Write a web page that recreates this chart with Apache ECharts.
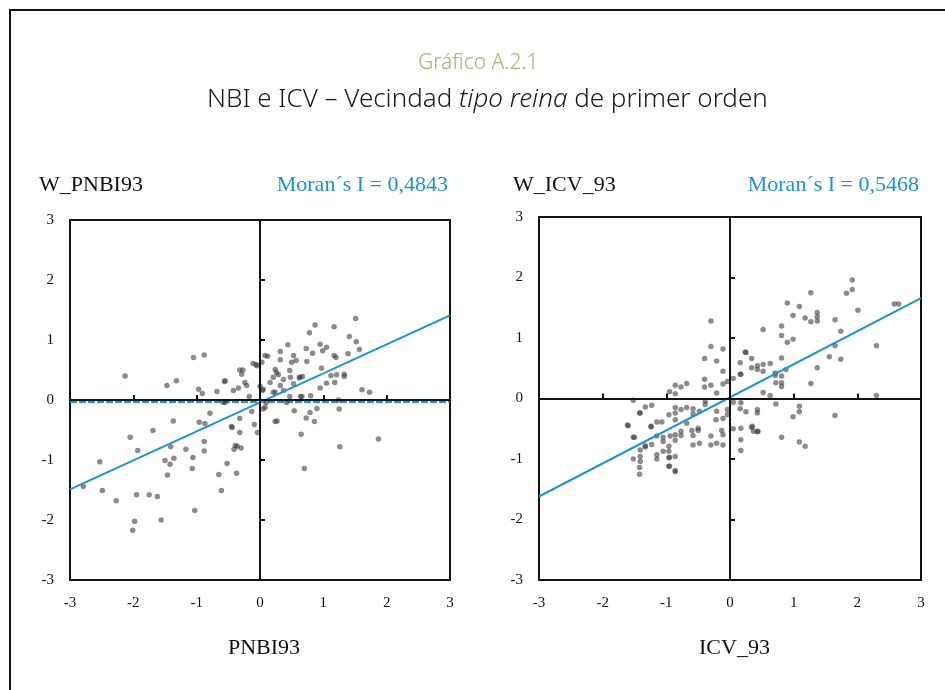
<!DOCTYPE html>
<html>
<head>
<meta charset="utf-8">
<script src="https://cdn.jsdelivr.net/npm/echarts@6/dist/echarts.min.js"></script>
<style>
  html, body { margin: 0; padding: 0; background: #fff; }
  #chart { width: 945px; height: 690px; }
</style>
</head>
<body>
<div id="chart"></div>
<script>
// datos: [x, W_x]
const pnbiPoints = [
  [-2.13,0.40],[-1.05,0.71],[-0.88,0.75],[-1.47,0.24],[-1.32,0.32],[-0.97,0.18],[-0.91,0.11],[-0.68,0.14],
  [-0.56,0.31],[-0.42,0.16],[-0.34,0.20],[-0.29,0.43],[-0.32,0.50],[-0.24,0.29],[-0.21,0.24],[-0.11,0.61],
  [-0.05,0.57],[-0.96,-0.37],[-0.87,-0.39],[-0.79,-0.22],[-1.37,-0.35],[-1.69,-0.51],[-2.05,-0.62],[-1.93,-0.84],
  [-2.53,-1.03],[-2.79,-1.44],[-2.49,-1.51],[-2.27,-1.68],[-1.95,-1.58],[-1.75,-1.58],[-1.62,-1.61],[-1.98,-2.02],
  [-2.01,-2.17],[-1.56,-2.00],[-1.41,-0.78],[-1.50,-1.01],[-1.42,-1.07],[-1.36,-0.97],[-1.46,-1.25],[-1.17,-0.82],
  [-1.06,-0.96],[-1.07,-1.14],[-1.03,-1.84],[-0.88,-0.69],[-0.88,-0.85],[-0.65,-1.24],[-0.61,-1.51],[-0.52,-1.06],
  [-0.37,-1.22],[-0.41,-0.82],[-0.36,-0.77],[-0.44,-0.46],[-0.32,-0.31],[-0.32,-0.54],[-0.09,-0.41],[-0.04,-0.54],
  [-0.13,-0.19],[-0.17,0.06],[-0.55,-0.04],[-0.06,0.59],[0.08,0.74],[-0.27,0.50],[-0.55,0.32],[0.00,0.23],
  [0.04,0.16],[-0.58,-0.04],[-0.45,-0.44],[-0.39,-0.76],[-0.30,-0.80],
  [0.08,-0.12],[0.24,-0.36],[0.27,-0.35],[0.54,-0.18],[0.65,-0.57],[0.73,-0.30],[0.79,-0.21],[0.86,-0.36],
  [0.90,-0.14],[1.25,-0.15],[1.26,-0.78],[0.70,-1.14],[1.87,-0.65],[0.05,-0.15],
  [1.51,1.36],[0.87,1.25],[1.17,1.22],[0.78,1.12],[1.41,1.06],[1.52,0.97],[0.44,0.92],[0.95,0.93],
  [1.05,0.88],[0.99,0.82],[0.83,0.78],[0.73,0.86],[0.32,0.81],[0.53,0.74],[0.03,0.63],[0.50,0.63],
  [0.57,0.66],[0.32,0.67],[0.74,0.64],[1.17,0.74],[1.20,0.71],[1.39,0.77],[1.57,0.84],[1.61,0.17],
  [1.73,0.13],[0.24,0.51],[0.29,0.42],[0.21,0.38],[0.16,0.29],[0.37,0.34],[0.47,0.49],[0.48,0.38],
  [0.63,0.38],[0.67,0.39],[0.97,0.53],[1.12,0.41],[1.21,0.42],[1.33,0.43],[1.33,0.39],[1.18,0.29],
  [1.05,0.28],[0.95,0.20],[0.53,0.27],[0.32,0.24],[0.80,0.07],[0.64,0.06],[0.21,0.13],[0.05,0.18],
  [1.24,0.00],[0.12,0.73],[0.26,0.46],[0.62,0.37],[0.66,0.06],[0.24,0.13],[0.37,0.16],[0.47,0.06],
  [0.42,-0.04],[0.10,-0.04]
];

const icvPoints = [
  [-0.30,1.28],[-0.30,0.86],[-0.11,0.82],[-0.40,0.66],[-0.21,0.62],[-0.11,0.45],[-0.40,0.32],[-0.40,0.19],
  [-0.30,0.22],[-0.11,0.24],[-0.04,0.28],[-0.21,0.09],[-0.86,0.22],[-0.77,0.19],[-0.68,0.25],[-0.95,0.11],
  [-0.86,0.08],
  [1.92,1.96],[1.92,1.80],[1.83,1.74],[1.27,1.75],[0.90,1.58],[1.09,1.52],[2.01,1.46],[2.58,1.56],
  [2.65,1.56],[0.99,1.37],[1.18,1.33],[1.27,1.27],[1.37,1.42],[1.37,1.35],[1.37,1.28],[1.65,1.30],
  [0.52,1.14],[0.81,1.20],[0.81,1.04],[0.99,0.98],[0.90,0.93],[1.74,1.11],[1.65,0.87],[2.30,0.87],
  [0.25,0.76],[0.34,0.66],[0.16,0.59],[0.81,0.67],[1.56,0.69],[1.74,0.65],[0.34,0.51],[0.43,0.54],
  [0.43,0.48],[0.52,0.56],[0.52,0.45],[0.63,0.58],[0.17,0.40],[0.05,0.33],[1.37,0.51],[0.72,0.26],
  [0.81,0.26],[0.81,0.20],[1.27,0.25],[0.52,0.10],[0.63,0.05],[2.30,0.05],
  [0.05,-0.06],[0.17,-0.07],[0.16,-0.17],[0.25,-0.22],[0.43,-0.18],[0.43,-0.24],[0.72,-0.09],[1.09,-0.13],
  [1.09,-0.22],[0.99,-0.30],[1.65,-0.28],[0.05,-0.50],[0.17,-0.49],[0.34,-0.48],[0.37,-0.54],[0.43,-0.55],
  [0.17,-0.68],[0.17,-0.86],[0.81,-0.64],[1.09,-0.72],[1.18,-0.79],[0.44,-0.54],[0.35,-0.46],
  [-1.52,-0.03],[-0.39,-0.04],[-0.39,-0.10],[-1.33,-0.14],[-1.23,-0.11],[-1.42,-0.24],[-0.96,-0.27],[-0.86,-0.15],
  [-0.86,-0.24],[-0.77,-0.18],[-0.68,-0.15],[-0.58,-0.17],[-0.48,-0.21],[-0.58,-0.25],[-0.86,-0.35],[-1.07,-0.39],
  [-1.15,-0.39],[-0.68,-0.41],[-0.22,-0.35],[-0.11,-0.33],[-0.04,-0.27],[-0.04,-0.18],[-0.21,-0.21],[-1.60,-0.45],
  [-1.24,-0.47],[-0.50,-0.49],[-0.50,-0.53],[-0.60,-0.53],[-0.13,-0.53],[-0.11,-0.60],[-0.77,-0.54],[-0.77,-0.61],
  [-0.86,-0.60],[-0.94,-0.62],[-1.05,-0.64],[-1.15,-0.62],[-1.52,-0.64],[-1.05,-0.71],[-0.86,-0.69],[-0.58,-0.61],
  [-0.30,-0.62],[-0.58,-0.77],[-0.48,-0.74],[-0.30,-0.77],[-0.21,-0.74],[-0.11,-0.77],[-1.23,-0.76],[-1.33,-0.78],
  [-1.41,-0.85],[-0.96,-0.79],[-0.96,-0.87],[-1.15,-0.93],[-1.15,-1.00],[-0.86,-0.96],[-0.96,-0.98],[-1.41,-0.96],
  [-1.52,-1.00],[-1.41,-1.04],[-1.42,-1.14],[-1.42,-1.25],[-0.96,-1.12],[-0.86,-1.21],[-1.05,-0.87],[-1.61,-0.44],
  [-1.50,-0.64],[-1.41,-0.24],[-1.33,-0.80],[-1.24,-0.46],[-0.95,-0.97],[-0.95,-1.12],[-0.86,-1.19],
  [0.16,0.40],[0.71,0.42],[0.71,0.38],[0.81,0.37],[0.88,0.48],[0.24,0.77]
];

// recta de Moran (extremos en x = -3 y x = 3)
const pnbiFit = [[-3, -1.49], [3, 1.41]];
const icvFit = [[-3, -1.62], [3, 1.66]];
const pnbiMean = [[-3, -0.025], [3, -0.025]];

const axisTicks = [-3, -2, -1, 0, 1, 2, 3];

const BLUE = '#1996d6';
const SERIF = '"Liberation Serif", "DejaVu Serif", serif';
const SANS = '"Noto Sans", Lato, sans-serif';

const chart = echarts.init(document.getElementById('chart'));

const valueAxis = (idx, extra) => Object.assign({
  type: 'value',
  gridIndex: idx,
  min: axisTicks[0],
  max: axisTicks[axisTicks.length - 1],
  interval: 1,
  splitLine: { show: false },
  axisLine: { show: true, lineStyle: { color: '#111', width: 2 } },
  axisTick: { show: true, inside: true, length: 5, lineStyle: { color: '#111', width: 2 } },
  axisLabel: { color: '#111', fontFamily: SERIF, fontSize: 15, margin: 16 }
}, extra);

const zeroLines = {
  silent: true,
  symbol: 'none',
  label: { show: false },
  lineStyle: { color: '#111', width: 2, type: 'solid' },
  data: [{ xAxis: 0 }, { yAxis: 0 }]
};

const dots = (idx, data) => ({
  type: 'scatter',
  xAxisIndex: idx,
  yAxisIndex: idx,
  data: data,
  symbolSize: 5.5,
  itemStyle: { color: 'rgba(55,55,55,0.72)' },
  markLine: zeroLines,
  z: 3
});

const fit = (idx, data, dashed) => ({
  type: 'line',
  xAxisIndex: idx,
  yAxisIndex: idx,
  data: data,
  symbol: 'none',
  lineStyle: { color: BLUE, width: dashed ? 3 : 2, type: dashed ? [7, 2] : 'solid' },
  z: dashed ? 2 : 4
});

const label = (text, pos, color) => ({
  text: text,
  left: pos.left, right: pos.right, top: pos.top,
  textStyle: { color: color || '#111', fontFamily: SERIF, fontWeight: 'normal', fontSize: 22 }
});

chart.setOption({
  animation: false,
  backgroundColor: '#fff',
  title: [
    {
      text: 'Gráfico A.2.1',
      left: 413, top: 48,
      textStyle: { color: '#a6b46a', fontFamily: SANS, fontWeight: 300, fontSize: 21 }
    },
    {
      text: '{n|NBI e ICV – Vecindad }{i|tipo reina}{n| de primer orden}',
      left: 202, top: 82,
      textStyle: {
        rich: {
          n: { color: '#1a1a1a', fontFamily: SANS, fontWeight: 300, fontSize: 26 },
          i: { color: '#1a1a1a', fontFamily: SANS, fontWeight: 300, fontStyle: 'italic', fontSize: 26 }
        }
      }
    },
    label('W_PNBI93', { left: 34, top: 169 }),
    label('Moran´s I = 0,4843', { right: 492, top: 169 }, BLUE),
    label('W_ICV_93', { left: 508, top: 169 }),
    label('Moran´s I = 0,5468', { right: 21, top: 169 }, BLUE),
    label('PNBI93', { left: 223, top: 632 }),
    label('ICV_93', { left: 694, top: 632 })
  ],
  graphic: [
    {
      type: 'polyline',
      shape: { points: [[10, 690], [10, 10], [945, 10]] },
      style: { stroke: '#111', lineWidth: 2, fill: null }
    }
  ],
  grid: [
    { left: 70, top: 220, width: 380, height: 360, show: true, borderColor: '#111', borderWidth: 2 },
    { left: 539, top: 217, width: 382, height: 363, show: true, borderColor: '#111', borderWidth: 2 }
  ],
  xAxis: [valueAxis(0), valueAxis(1)],
  yAxis: [valueAxis(0), valueAxis(1)],
  series: [
    fit(0, pnbiMean, true),
    dots(0, pnbiPoints),
    fit(0, pnbiFit, false),
    dots(1, icvPoints),
    fit(1, icvFit, false)
  ]
});
</script>
</body>
</html>
